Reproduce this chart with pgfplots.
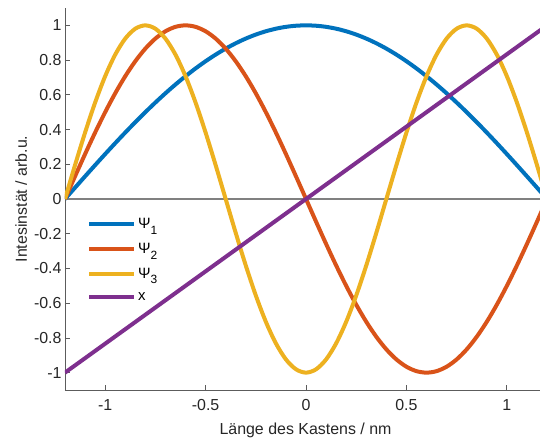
\documentclass[border=0pt]{standalone}
\usepackage{fontspec}
\setmainfont{Liberation Sans}
\usepackage{pgfplots}
\pgfplotsset{compat=1.18}
\usepackage{pgfplotstable}
\definecolor{mblue}{rgb}{0,0.447,0.741}
\definecolor{morange}{rgb}{0.85,0.325,0.098}
\definecolor{myellow}{rgb}{0.929,0.694,0.125}
\definecolor{mpurple}{rgb}{0.494,0.184,0.556}
\definecolor{axgray}{rgb}{0.15,0.15,0.15}
\pgfplotstableread{
x p1 p2 p3
-1.20 0 0 0
-1.15 0.06540 0.13053 0.19509
-1.10 0.13053 0.25882 0.38268
-1.05 0.19509 0.38268 0.55557
-1.00 0.25882 0.5 0.70711
-0.95 0.32144 0.60876 0.83147
-0.90 0.38268 0.70711 0.92388
-0.85 0.44229 0.79335 0.98079
-0.80 0.5 0.86603 1
-0.75 0.55557 0.92388 0.98079
-0.70 0.60876 0.96593 0.92388
-0.65 0.65935 0.99144 0.83147
-0.60 0.70711 1 0.70711
-0.55 0.75184 0.99144 0.55557
-0.50 0.79335 0.96593 0.38268
-0.45 0.83147 0.92388 0.19509
-0.40 0.86603 0.86603 0
-0.35 0.89687 0.79335 -0.19509
-0.30 0.92388 0.70711 -0.38268
-0.25 0.94693 0.60876 -0.55557
-0.20 0.96593 0.5 -0.70711
-0.15 0.98079 0.38268 -0.83147
-0.10 0.99144 0.25882 -0.92388
-0.05 0.99786 0.13053 -0.98079
0.00 1 0 -1
0.05 0.99786 -0.13053 -0.98079
0.10 0.99144 -0.25882 -0.92388
0.15 0.98079 -0.38268 -0.83147
0.20 0.96593 -0.5 -0.70711
0.25 0.94693 -0.60876 -0.55557
0.30 0.92388 -0.70711 -0.38268
0.35 0.89687 -0.79335 -0.19509
0.40 0.86603 -0.86603 0
0.45 0.83147 -0.92388 0.19509
0.50 0.79335 -0.96593 0.38268
0.55 0.75184 -0.99144 0.55557
0.60 0.70711 -1 0.70711
0.65 0.65935 -0.99144 0.83147
0.70 0.60876 -0.96593 0.92388
0.75 0.55557 -0.92388 0.98079
0.80 0.5 -0.86603 1
0.85 0.44229 -0.79335 0.98079
0.90 0.38268 -0.70711 0.92388
0.95 0.32144 -0.60876 0.83147
1.00 0.25882 -0.5 0.70711
1.05 0.19509 -0.38268 0.55557
1.10 0.13053 -0.25882 0.38268
1.15 0.06540 -0.13053 0.19509
1.20 0 0 0
}\psidata
\begin{document}
\begin{tikzpicture}[font=\fontsize{16}{19}\selectfont]
\begin{axis}[
  scale only axis, width=475bp, height=382bp,
  xmin=-1.2, xmax=1.165, ymin=-1.1, ymax=1.1,
  axis x line*=bottom, axis y line*=left,
  axis line style={-, color=axgray!75, line width=0.8bp},
  tick align=inside, major tick length=5bp,
  tick style={color=axgray!75, line width=0.8bp},
  xtick={-1,-0.5,0,0.5,1},
  ytick={-1,-0.8,-0.6,-0.4,-0.2,0,0.2,0.4,0.6,0.8,1},
  /pgf/number format/assume math mode=true,
  ticklabel style={color=axgray},
  xticklabel style={yshift=-6bp},
  xlabel={Länge des Kastens / nm},
  ylabel={Intesinstät / arb.u.},
  label style={color=axgray},
  xlabel style={xshift=3bp, yshift=-5bp},
  ylabel style={at={(axis description cs:-0.092,0.5)}, anchor=center},
  legend style={draw=none, fill=none, at={(axis description cs:0.04,0.46)}, anchor=north west,
    font=\fontsize{15}{18}\selectfont, row sep=9bp},
  legend cell align=left,
  legend image code/.code={\draw[#1, line width=4bp] (0bp,0bp) -- (45bp,0bp);},
  clip=true,
]
\addplot[color=gray, line width=1.3bp, forget plot] coordinates {(-1.2,0) (1.2,0)};
\addplot[color=mblue, line width=4bp, smooth] table[x=x, y=p1] {\psidata};
\addplot[color=morange, line width=4bp, smooth] table[x=x, y=p2] {\psidata};
\addplot[color=myellow, line width=4bp, smooth] table[x=x, y=p3] {\psidata};
\addplot[color=mpurple, line width=4bp] coordinates {(-1.2,-1) (1.2,1)};
\legend{Ψ\raisebox{-0.7ex}{\fontsize{12}{14}\selectfont 1},
        Ψ\raisebox{-0.7ex}{\fontsize{12}{14}\selectfont 2},
        Ψ\raisebox{-0.7ex}{\fontsize{12}{14}\selectfont 3},
        x}
\end{axis}
\pgfresetboundingbox
\path[use as bounding box] ([xshift=-65bp,yshift=-49bp]current axis.south west) rectangle ([yshift=8bp]current axis.north east);
\end{tikzpicture}
\end{document}
